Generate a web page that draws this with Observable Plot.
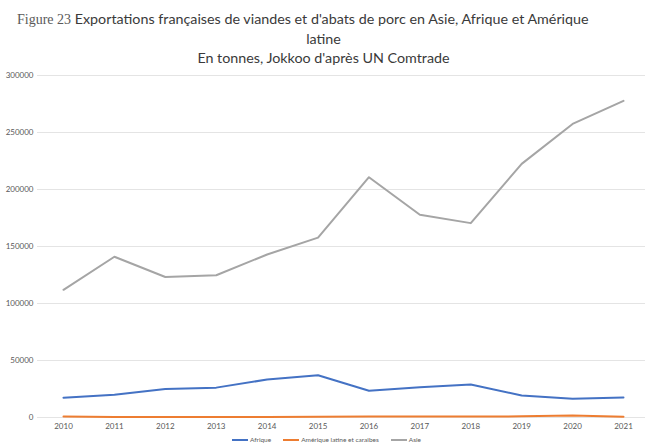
<!DOCTYPE html>
<html>
<head>
<meta charset="utf-8">
<script src="https://cdn.jsdelivr.net/npm/d3@7"></script>
<script src="https://cdn.jsdelivr.net/npm/@observablehq/plot@0.6"></script>
<style>
  html, body { margin: 0; padding: 0; background: #ffffff; }
  body { width: 645px; height: 445px; overflow: hidden; position: relative; font-family: Lato, "Open Sans", sans-serif; }
  #title { position: absolute; top: 9px; left: 0; width: 645px; color: #3a3a3a; font-size: 14.3px; line-height: 19px; }
  #title .l1 { padding-left: 17px; white-space: nowrap; }
  #title .fig { font-family: "Liberation Serif", "DejaVu Serif", serif; color: #5a5a5a; font-size: 14px; }
  #title .c { text-align: center; padding-left: 2px; }
  #chart { position: absolute; top: 65px; left: 0; }
  #legend { position: absolute; top: 436px; left: 0; width: 645px; display: flex; justify-content: center; gap: 12px; font-size: 6.5px; color: #595959; padding-left: 8px; box-sizing: border-box; }
  #legend span.sw { display: inline-block; width: 16px; height: 2px; vertical-align: middle; margin-right: 2px; }
</style>
</head>
<body>
<div id="title">
  <div class="l1"><span class="fig">Figure 23</span> Exportations françaises de viandes et d'abats de porc en Asie, Afrique et Amérique</div>
  <div class="c">latine</div>
  <div class="c">En tonnes, Jokkoo d'après UN Comtrade</div>
</div>
<div id="chart"></div>
<div id="legend"></div>
<script>
const years = [2010, 2011, 2012, 2013, 2014, 2015, 2016, 2017, 2018, 2019, 2020, 2021];
const afrique = [17400, 20000, 25000, 26200, 33300, 37000, 23400, 26500, 29000, 19300, 16400, 17500];
const ameriqueLatine = [900, 500, 400, 500, 500, 600, 900, 900, 900, 1000, 1800, 600];
const asie = [112000, 141000, 123200, 124800, 143000, 157800, 210800, 177800, 170500, 222500, 257500, 277800];
const seriesNames = ["Afrique", "Amérique latine et caraibes", "Asie"];
const seriesColors = ["#4472c4", "#ed7d31", "#a5a5a5"];
const yTicks = [0, 50000, 100000, 150000, 200000, 250000, 300000];

const seriesValues = [afrique, ameriqueLatine, asie];
const rows = [];
seriesNames.forEach((name, i) => {
  years.forEach((yr, j) => rows.push({ series: name, year: yr, value: seriesValues[i][j] }));
});

const chart = Plot.plot({
  width: 645,
  height: 370,
  marginTop: 10,
  marginBottom: 18,
  marginLeft: 37,
  marginRight: 0,
  style: { fontFamily: "Lato, 'Open Sans', sans-serif", fontSize: "8px", color: "#595959", background: "transparent" },
  x: { type: "linear", domain: [2010, 2021], range: [63, 623], label: null },
  y: { domain: [0, 300000], label: null },
  color: { domain: seriesNames, range: seriesColors },
  marks: [
    Plot.ruleY(yTicks, { stroke: "#e4e4e4", strokeWidth: 1 }),
    Plot.axisY(yTicks, { tickSize: 0, tickPadding: 4, tickFormat: d => String(d), fill: "#595959", label: null }),
    Plot.axisX(years, { tickSize: 0, tickPadding: 6, tickFormat: d => String(d), fill: "#595959", label: null }),
    Plot.line(rows, { x: "year", y: "value", z: "series", stroke: "series", strokeWidth: 2, strokeLinejoin: "round", strokeLinecap: "round" })
  ]
});
document.getElementById("chart").appendChild(chart);

const legend = document.getElementById("legend");
seriesNames.forEach((n, i) => {
  const item = document.createElement("div");
  item.innerHTML = `<span class="sw" style="background:${seriesColors[i]}"></span>${n}`;
  legend.appendChild(item);
});
</script>
</body>
</html>
